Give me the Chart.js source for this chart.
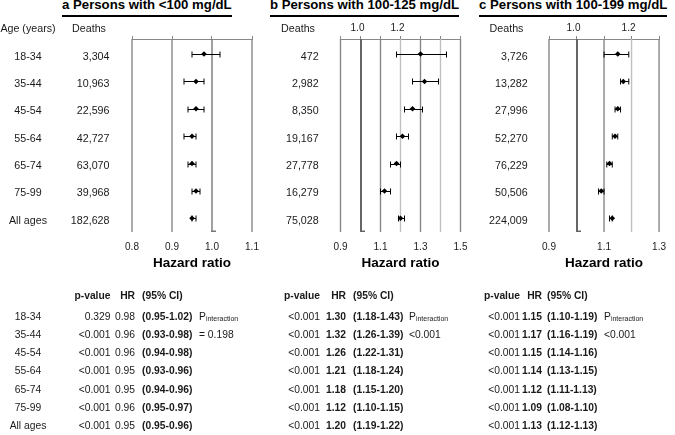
<!DOCTYPE html>
<html>
<head>
<meta charset="utf-8">
<script src="https://cdn.jsdelivr.net/npm/chart.js@4.4.1/dist/chart.umd.min.js"></script>
<style>
  body { margin: 0; background: #fff; }
  #page { position: relative; width: 675px; height: 435px; overflow: hidden; font-family: "Liberation Sans", Arial, sans-serif; color: #1a1a1a; }
  canvas { position: absolute; left: 0; top: 0; }
  .t { position: absolute; white-space: nowrap; line-height: 14px; }
  .ttl { position: absolute; top: -2px; font-weight: bold; font-size: 13.2px; line-height: 14px; padding-bottom: 3px; border-bottom: 2px solid #000; color: #000; white-space: nowrap; }
  sub { font-size: 7px; line-height: 0; vertical-align: -1px; }
</style>
</head>
<body>
<div id="page">
  <div class="ttl" style="left:62px">a Persons with &lt;100 mg/dL</div>
  <div class="ttl" style="left:270px">b Persons with 100-125 mg/dL</div>
  <div class="ttl" style="left:479px">c Persons with 100-199 mg/dL</div>
  <canvas id="ca" width="675" height="435"></canvas>
  <canvas id="cb" width="675" height="435"></canvas>
  <canvas id="cc" width="675" height="435"></canvas>
</div>
<script>
const ageGroups = ['18-34', '35-44', '45-54', '55-64', '65-74', '75-99', 'All ages'];

// a: <100 mg/dL
const deathsA = [3304, 10963, 22596, 42727, 63070, 39968, 182628];
const hrA = [0.98, 0.96, 0.96, 0.95, 0.95, 0.96, 0.95];
const loA = [0.95, 0.93, 0.94, 0.93, 0.94, 0.95, 0.95];
const hiA = [1.02, 0.98, 0.98, 0.96, 0.96, 0.97, 0.96];
const pValA = ['0.329', '<0.001', '<0.001', '<0.001', '<0.001', '<0.001', '<0.001'];

// b: 100-125 mg/dL
const deathsB = [472, 2982, 8350, 19167, 27778, 16279, 75028];
const hrB = [1.30, 1.32, 1.26, 1.21, 1.18, 1.12, 1.20];
const loB = [1.18, 1.26, 1.22, 1.18, 1.15, 1.10, 1.19];
const hiB = [1.43, 1.39, 1.31, 1.24, 1.20, 1.15, 1.22];
const pValB = ['<0.001', '<0.001', '<0.001', '<0.001', '<0.001', '<0.001', '<0.001'];

// c: 100-199 mg/dL
const deathsC = [3726, 13282, 27996, 52270, 76229, 50506, 224009];
const hrC = [1.15, 1.17, 1.15, 1.14, 1.12, 1.09, 1.13];
const loC = [1.10, 1.16, 1.14, 1.13, 1.11, 1.08, 1.12];
const hiC = [1.19, 1.19, 1.16, 1.15, 1.13, 1.10, 1.13];
const pValC = ['<0.001', '<0.001', '<0.001', '<0.001', '<0.001', '<0.001', '<0.001'];

const pInteraction = ['= 0.198', '<0.001', '<0.001'];

const ticksA = ['0.8', '0.9', '1.0', '1.1'];
const ticksB = ['0.9', '1.1', '1.3', '1.5'];
const ticksC = ['0.9', '1.1', '1.3'];
const topTicksA = [];
const topTicksB = ['1.0', '1.2'];
const topTicksC = ['1.0', '1.2'];

Chart.defaults.font.family = '"Liberation Sans", Arial, sans-serif';

const fmt = v => v.toFixed(1);

// vertical grid from the x scale ticks, CI whiskers, little foot on the 1.0 line
function makeForestMarks(lo, hi, labels, refColor, refWidth) {
  return {
    id: 'forestMarks',
    beforeDatasetsDraw(chart) {
      const {ctx, chartArea, scales: {x, y}} = chart;
      ctx.save();
      x.ticks.forEach(t => {
        const s = fmt(t.value);
        const isRef = s === '1.0';
        const px = isRef ? Math.round(x.getPixelForValue(t.value)) : x.getPixelForValue(t.value);
        ctx.strokeStyle = isRef ? refColor : (labels.includes(s) ? '#888888' : '#c0c0c0');
        ctx.lineWidth = isRef ? refWidth : 1.4;
        ctx.beginPath();
        ctx.moveTo(px, chartArea.top);
        ctx.lineTo(px, chartArea.bottom);
        ctx.stroke();
      });
      const rx = Math.round(x.getPixelForValue(1.0)), b = chartArea.bottom;
      ctx.strokeStyle = refColor;
      ctx.lineWidth = 1.5;
      ctx.beginPath();
      ctx.moveTo(rx - 1, b - 0.75); ctx.lineTo(rx + 4, b - 0.75);
      ctx.stroke();

      ctx.strokeStyle = '#000';
      ctx.lineWidth = 1;
      lo.forEach((l, i) => {
        const x1 = x.getPixelForValue(l), x2 = x.getPixelForValue(hi[i]);
        const py = Math.round(y.getPixelForValue(i)) + 0.5;
        ctx.beginPath();
        ctx.moveTo(x1, py); ctx.lineTo(x2, py);
        ctx.moveTo(x1, py - 3); ctx.lineTo(x1, py + 3);
        ctx.moveTo(x2, py - 3); ctx.lineTo(x2, py + 3);
        ctx.stroke();
      });
      ctx.restore();
    }
  };
}

function forest(id, hr, lo, hi, min, max, bottomLabels, topLabels, left, refColor, refWidth) {
  return new Chart(document.getElementById(id), {
    type: 'scatter',
    data: {
      datasets: [{
        data: hr.map((v, i) => ({x: v, y: i})),
        pointStyle: 'rectRot',
        pointRadius: 2.8,
        backgroundColor: '#000',
        borderColor: '#000',
        borderWidth: 0
      }]
    },
    options: {
      responsive: false,
      animation: false,
      events: [],
      layout: {padding: {left: left, right: 675 - left - 120, top: 19, bottom: 158}},
      plugins: {legend: {display: false}, tooltip: {enabled: false}},
      scales: {
        x: {
          type: 'linear', position: 'bottom', min: min, max: max,
          afterFit: s => { s.height = 45; },
          ticks: {stepSize: 0.1, padding: 9, color: '#222', font: {size: 10}, maxRotation: 0, autoSkip: false,
                  callback: v => bottomLabels.includes(fmt(v)) ? fmt(v) : ''},
          grid: {drawOnChartArea: false, drawTicks: false},
          border: {display: false},
          title: {display: true, text: 'Hazard ratio', color: '#000', font: {size: 13.5, weight: 'bold'}, padding: {top: 0, bottom: 6}}
        },
        x2: {
          type: 'linear', position: 'top', min: min, max: max,
          afterFit: s => { s.height = 20; },
          ticks: {stepSize: 0.1, padding: 2, labelOffset: -3, color: '#222', font: {size: 10}, maxRotation: 0, autoSkip: false,
                  callback: v => topLabels.includes(fmt(v)) ? fmt(v) : ''},
          grid: {drawOnChartArea: false, drawTicks: true, tickLength: 3, color: '#888888'},
          border: {display: true, color: '#888888'}
        },
        y: {type: 'linear', min: -0.55, max: 6.5, reverse: true, display: false}
      }
    },
    plugins: [makeForestMarks(lo, hi, bottomLabels, refColor, refWidth)]
  });
}

const chartA = forest('ca', hrA, loA, hiA, 0.8, 1.1, ticksA, topTicksA, 132, '#777777', 1.4);
const chartB = forest('cb', hrB, loB, hiB, 0.9, 1.5, ticksB, topTicksB, 340.5, '#666666', 2);
const chartC = forest('cc', hrC, loC, hiC, 0.9, 1.3, ticksC, topTicksC, 549, '#666666', 2);

const page = document.getElementById('page');
function put(str, x, y, align, opt) {
  opt = opt || {};
  const el = document.createElement('div');
  el.className = 't';
  el.style.fontSize = (opt.size || 10.3) + 'px';
  if (opt.bold) el.style.fontWeight = 'bold';
  if (opt.html) el.innerHTML = str; else el.textContent = str;
  el.style.top = (y - 7) + 'px';
  if (align === 'right') el.style.right = (675 - x) + 'px';
  else if (align === 'center') { el.style.left = (x - 60) + 'px'; el.style.width = '120px'; el.style.textAlign = 'center'; }
  else el.style.left = x + 'px';
  page.appendChild(el);
}

// upper part: row labels follow the chart's y scale
const up = 10.7;
put('Age (years)', 28, 28, 'center', {size: up});
put('Deaths', 89, 28, 'center', {size: up});
put('Deaths', 298, 28, 'center', {size: up});
put('Deaths', 506.5, 28, 'center', {size: up});
const yScale = chartA.scales.y;
ageGroups.forEach((g, i) => {
  const y = yScale.getPixelForValue(i) + 1.5;
  put(g, 28, y, 'center', {size: up});
  put(deathsA[i].toLocaleString('en-US'), 109.5, y, 'right', {size: up});
  put(deathsB[i].toLocaleString('en-US'), 318.7, y, 'right', {size: up});
  put(deathsC[i].toLocaleString('en-US'), 527.7, y, 'right', {size: up});
});

// lower tables
const headY = 296, rowY0 = 316.5, rowStep = 18.3;
function table(cols, hr, lo, hi, pv, pint, hrBold) {
  put('p-value', cols.p, headY, 'right', {bold: true});
  put('HR', cols.hr, headY, 'right', {bold: true});
  put('(95% CI)', cols.ci, headY, 'left', {bold: true});
  hr.forEach((v, i) => {
    const y = rowY0 + i * rowStep;
    put(pv[i], cols.p, y, 'right');
    put(v.toFixed(2), cols.hr, y, 'right', {bold: hrBold});
    put('(' + lo[i].toFixed(2) + '-' + hi[i].toFixed(2) + ')', cols.ci, y, 'left', {bold: true});
  });
  put('P<sub>interaction</sub>', cols.pi, rowY0, 'left', {html: true});
  put(pint, cols.pi, rowY0 + rowStep, 'left');
}
ageGroups.forEach((g, i) => put(g, 28, rowY0 + i * rowStep, 'center'));
table({p: 110.5, hr: 135, ci: 142, pi: 199}, hrA, loA, hiA, pValA, pInteraction[0], false);
table({p: 320, hr: 346, ci: 353, pi: 409}, hrB, loB, hiB, pValB, pInteraction[1], true);
table({p: 520, hr: 542, ci: 547, pi: 604}, hrC, loC, hiC, pValC, pInteraction[2], true);
</script>
</body>
</html>
